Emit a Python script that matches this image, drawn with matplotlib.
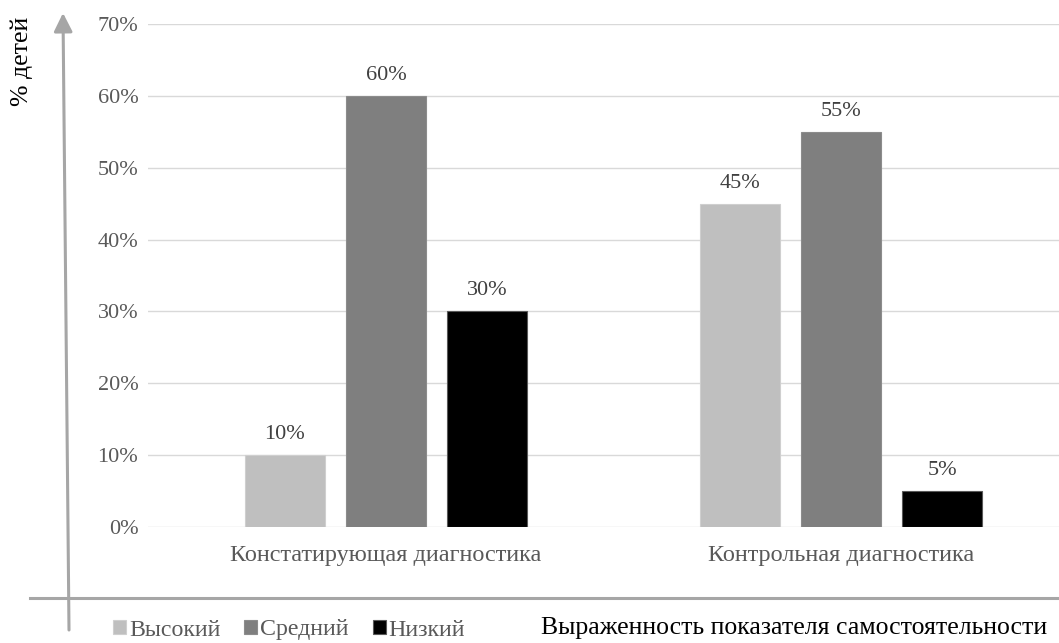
import numpy as np
import matplotlib
matplotlib.use('Agg')
import matplotlib.pyplot as plt
from matplotlib.patches import FancyArrowPatch
from matplotlib.lines import Line2D

plt.rcParams['font.family'] = ['Liberation Serif', 'DejaVu Serif']

categories = ['Констатирующая диагностика', 'Контрольная диагностика']
levels = ['Высокий', 'Средний', 'Низкий']
values = {
    'Высокий': [10, 45],
    'Средний': [60, 55],
    'Низкий': [30, 5],
}
colors = ['#bfbfbf', '#7f7f7f', '#000000']
edges = ['#cfcfcf', '#8c8c8c', '#595959']
yticks = [0, 10, 20, 30, 40, 50, 60, 70]

W, H = 1059, 643
fig = plt.figure(figsize=(W / 100, H / 100), dpi=100)
ax = fig.add_axes([148 / W, 1 - 527 / H, 1 - 148 / W, (527 - 24) / H])

x = np.arange(len(categories))
bw = 0.174
step = 0.222
for i, lvl in enumerate(levels):
    bars = ax.bar(x + (i - 1) * step, values[lvl], bw, color=colors[i],
                  edgecolor=edges[i], linewidth=0.8, label=lvl, zorder=3)
    ax.bar_label(bars, labels=[f'{v}%' for v in values[lvl]], padding=8,
                 fontsize=16, color='#404040')

ax.set_xlim(-0.523, 1.479)
ax.set_ylim(0, 70)
ax.set_yticks(yticks)
ax.set_yticklabels([f'{t}%' for t in yticks])
ax.set_xticks(x)
ax.set_xticklabels(categories)
ax.tick_params(axis='y', length=0, pad=7, labelsize=16, labelcolor='#595959')
ax.tick_params(axis='x', length=0, pad=13, labelsize=17.5, labelcolor='#595959')
ax.yaxis.grid(True, color='#d9d9d9', linewidth=1, zorder=0)
for s in ax.spines.values():
    s.set_visible(False)

# hand-drawn axes: vertical arrow and horizontal line
fig.add_artist(Line2D([30 / W, 1.0], [1 - 598 / H, 1 - 598 / H],
                      transform=fig.transFigure, color='#a6a6a6', linewidth=2.2))
fig.add_artist(FancyArrowPatch((69 / W, 1 - 630 / H), (63 / W, 1 - 13 / H),
                               transform=fig.transFigure, arrowstyle='-|>',
                               mutation_scale=28, color='#a6a6a6', linewidth=2.2,
                               shrinkA=0, shrinkB=0))

fig.text(22 / W, 1 - 61 / H, '% детей', rotation=90, ha='center', va='center',
         fontsize=18.5, color='black')
fig.text(1047 / W, 1 - 628 / H, 'Выраженность показателя самостоятельности',
         ha='right', va='center', fontsize=18.5, color='black')

fig.legend(loc='center left', bbox_to_anchor=(113 / W, 1 - 630 / H), ncol=3,
           frameon=False, fontsize=17.2, handlelength=0.55, handleheight=0.55,
           handletextpad=0.12, columnspacing=1.0, labelcolor='#595959',
           borderpad=0, borderaxespad=0)

fig.savefig('out.png', dpi=100)
